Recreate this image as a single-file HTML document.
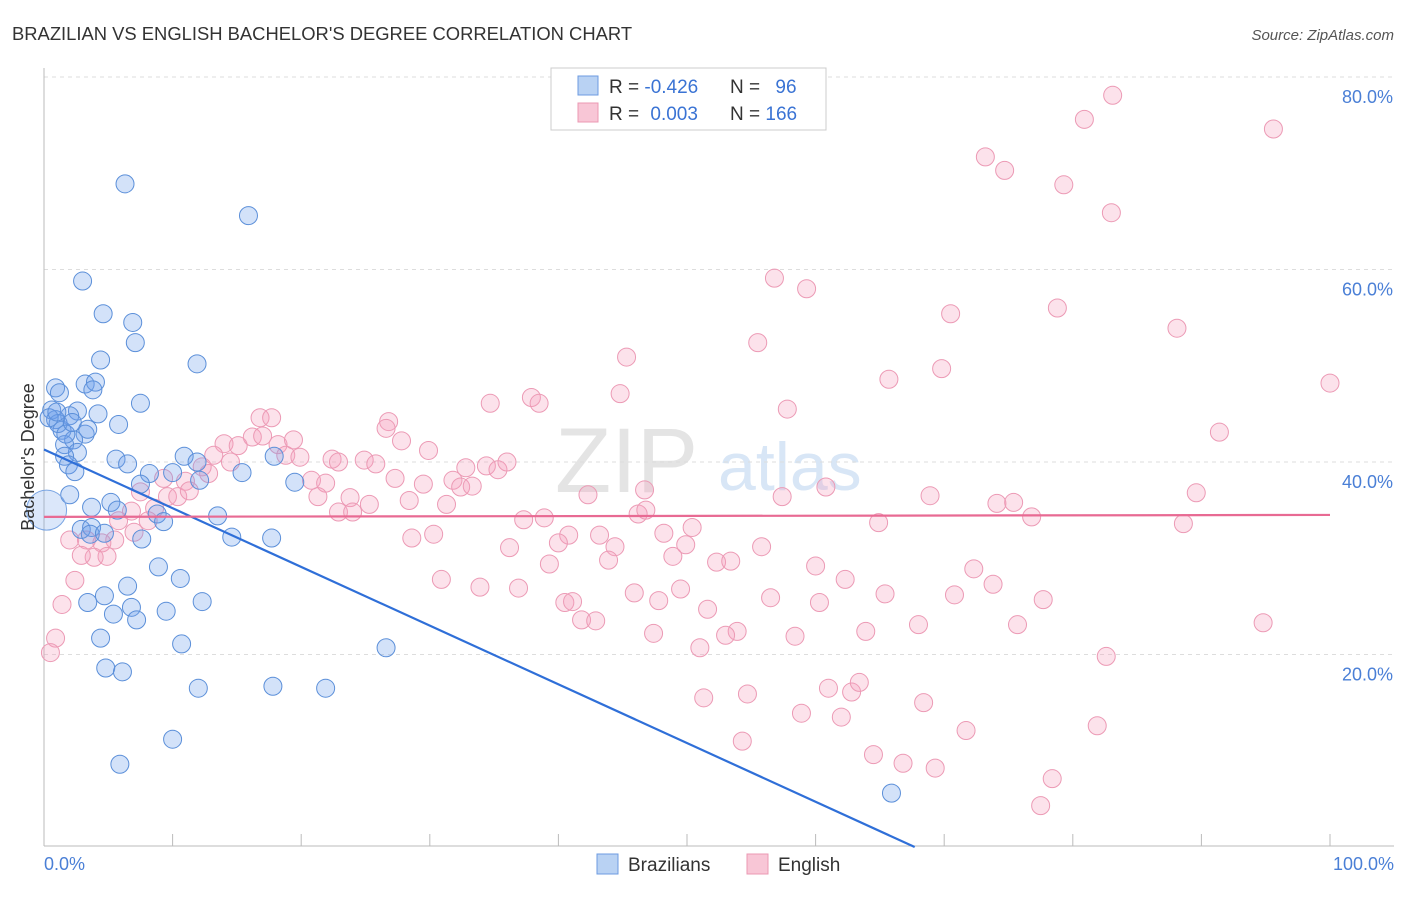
<!DOCTYPE html>
<html><head><meta charset="utf-8"><style>
body{margin:0;background:#fff;font-family:"Liberation Sans",sans-serif;}
svg text{font-family:"Liberation Sans",sans-serif;}
</style></head><body>
<svg id="chart" width="1406" height="892" xmlns="http://www.w3.org/2000/svg">
<text x="12" y="40" font-size="18.4" fill="#333">BRAZILIAN VS ENGLISH BACHELOR'S DEGREE CORRELATION CHART</text>
<text x="1394" y="40" font-size="15" fill="#555" text-anchor="end" font-style="italic">Source: ZipAtlas.com</text>
<g>
<text x="555" y="492" font-size="92" fill="#e4e4e4" font-family="Liberation Serif">ZIP</text>
<text x="718" y="490" font-size="68" fill="#d8e6f6">atlas</text>
</g>
<g id="grid"></g>
<g id="axes"></g>
<g id="marks"></g>
<text transform="translate(34,457) rotate(-90)" font-size="18" fill="#333" text-anchor="middle">Bachelor's Degree</text>
<text x="44" y="870" font-size="18" fill="#4a7fd6">0.0%</text>
<text x="1394" y="870" font-size="18" fill="#4a7fd6" text-anchor="end">100.0%</text>
<g>
<rect x="551" y="68" width="275" height="62" fill="#fff" stroke="#ccc"/>
<rect x="578" y="76" width="20" height="19" fill="#b9d2f3" stroke="#6d9be0"/>
<rect x="578" y="103" width="20" height="19" fill="#f8c6d6" stroke="#eb98b3"/>
<text x="609" y="93" font-size="19" fill="#333">R = <tspan fill="#3a73d4">-0.426</tspan></text>
<text x="730" y="93" font-size="19" fill="#333">N = <tspan fill="#3a73d4" dx="10">96</tspan></text>
<text x="609" y="120" font-size="19" fill="#333">R = <tspan fill="#3a73d4" dx="6">0.003</tspan></text>
<text x="730" y="120" font-size="19" fill="#333">N = <tspan fill="#3a73d4">166</tspan></text>
</g>
<g>
<rect x="597" y="854" width="21" height="20" fill="#b9d2f3" stroke="#6d9be0"/>
<text x="628" y="871" font-size="19" fill="#333">Brazilians</text>
<rect x="747" y="854" width="21" height="20" fill="#f8c6d6" stroke="#eb98b3"/>
<text x="778" y="871" font-size="19" fill="#333">English</text>
</g>
</svg>
<script>
const yTicks=[20,40,60,80];
const yTickLabels=["20.0%","40.0%","60.0%","80.0%"];
const xTicks=[0,10,20,30,40,50,60,70,80,90,100];
const blueX=[6.3,15.9,3.0,4.6,6.9,7.1,4.4,11.9,0.9,3.2,4.0,3.8,1.2,7.5,0.6,2.6,2.0,4.2,0.9,5.8,1.4,3.2,2.3,1.6,2.6,1.6,5.6,6.5,1.9,10.9,11.9,17.9,2.4,8.2,10.0,15.4,19.5,12.1,7.5,2.0,5.2,3.7,5.7,8.8,9.3,13.5,2.9,3.7,3.6,4.7,7.6,14.6,17.7,8.9,10.6,6.5,4.7,3.4,6.8,12.3,9.5,5.4,7.2,4.4,10.7,26.6,4.8,6.1,12.0,17.8,21.9,10.0,5.9,65.9,1.1,1.7,3.4,0.4,1.0,2.2];
const blueY=[68.9,65.6,58.8,55.4,54.5,52.4,50.6,50.2,47.7,48.1,48.3,47.5,47.2,46.1,45.4,45.3,44.8,45.0,44.4,43.9,43.3,42.9,42.3,41.8,41.0,40.6,40.3,39.8,39.7,40.6,40.0,40.6,39.0,38.8,38.9,38.9,37.9,38.1,37.7,36.6,35.8,35.3,35.0,34.6,33.8,34.4,33.0,33.2,32.5,32.6,32.0,32.2,32.1,29.1,27.9,27.1,26.1,25.4,24.9,25.5,24.5,24.2,23.6,21.7,21.1,20.7,18.6,18.2,16.5,16.7,16.5,11.2,8.6,5.6,44.0,42.9,43.4,44.6,45.2,44.1];
const pinkX=[83.1,80.9,95.6,73.2,74.7,79.3,83.0,56.8,59.3,70.5,78.8,88.1,55.5,45.3,65.7,69.8,100,44.8,37.9,38.5,34.7,57.8,26.8,26.6,91.4,16.8,17.7,14.0,15.1,16.2,17.0,18.2,19.4,13.2,14.5,18.8,19.9,27.8,29.9,22.4,22.9,24.9,25.8,32.8,34.4,35.3,36.0,27.3,29.5,31.8,32.4,33.3,20.8,21.9,12.8,12.3,11.0,9.3,9.6,10.4,11.3,21.3,23.8,25.3,28.4,31.3,42.3,46.7,57.4,60.8,68.9,74.1,75.4,89.6,7.5,8.6,6.8,5.8,8.1,7.0,5.5,4.5,3.3,2.0,4.9,3.9,2.9,2.4,1.4,0.9,0.5,22.9,24.0,37.3,38.9,46.2,46.8,64.9,76.8,88.6,40.8,43.2,48.2,50.4,28.6,30.3,40.0,44.4,49.9,36.2,43.9,48.9,52.3,53.4,55.8,39.3,60.0,72.3,30.9,62.3,73.8,33.9,36.9,49.5,45.9,47.8,56.5,65.4,70.8,77.7,40.5,41.1,60.3,51.6,41.8,42.9,68.0,75.7,94.8,47.4,53.9,53.0,63.9,58.4,51.0,82.6,61.0,62.8,63.4,54.7,51.3,68.4,58.9,62.0,71.7,81.9,54.3,64.5,66.8,69.3,78.4,77.5];
const pinkY=[78.1,75.6,74.6,71.7,70.3,68.8,65.9,59.1,58.0,55.4,56.0,53.9,52.4,50.9,48.6,49.7,48.2,47.1,46.7,46.1,46.1,45.5,44.2,43.5,43.1,44.6,44.6,41.9,41.7,42.6,42.7,41.8,42.3,40.7,40.0,40.7,40.5,42.2,41.2,40.3,40.0,40.2,39.8,39.4,39.6,39.2,40.0,38.3,37.7,38.1,37.4,37.5,38.1,37.8,38.8,39.5,38.0,38.3,36.4,36.4,37.0,36.4,36.3,35.6,36.0,35.6,36.6,37.1,36.4,37.4,36.5,35.7,35.8,36.8,36.9,35.2,34.9,33.9,33.9,32.7,31.9,31.6,31.9,31.9,30.2,30.1,30.3,27.7,25.2,21.7,20.2,34.8,34.8,34.0,34.2,34.6,35.0,33.7,34.3,33.6,32.4,32.4,32.6,33.2,32.1,32.5,31.6,31.2,31.4,31.1,29.8,30.2,29.6,29.7,31.2,29.4,29.2,28.9,27.8,27.8,27.3,27.0,26.9,26.8,26.4,25.6,25.9,26.3,26.2,25.7,25.4,25.5,25.4,24.7,23.6,23.5,23.1,23.1,23.3,22.2,22.4,22.0,22.4,21.9,20.7,19.8,16.5,16.1,17.1,15.9,15.5,15.0,13.9,13.5,12.1,12.6,11.0,9.6,8.7,8.2,7.1,4.3];
const blueTrend=[41.3,-0.61];
const pinkTrend=[34.3,0.002];
const NS="http://www.w3.org/2000/svg";
function xs(v){return 44+v*12.86;}
function ys(v){return 847-v*9.625;}
function mk(t,a,p){const e=document.createElementNS(NS,t);for(const k in a)e.setAttribute(k,a[k]);p.appendChild(e);return e;}
const grid=document.getElementById('grid'),axes=document.getElementById('axes'),marks=document.getElementById('marks');
yTicks.forEach((t,i)=>{
 const l=mk('line',{x1:44,y1:ys(t),x2:1394,y2:ys(t),stroke:'#ddd','stroke-dasharray':'4,4'},grid);
 
 
 const tx=mk('text',{x:1393,y:ys(t)+26,'font-size':18,fill:'#4a7fd6','text-anchor':'end'},axes);
 tx.textContent=yTickLabels[i];
 
 
});
mk('line',{x1:44,y1:68,x2:44,y2:846,stroke:'#bbb'},axes);
mk('line',{x1:44,y1:846,x2:1394,y2:846,stroke:'#bbb'},axes);
xTicks.forEach(t=>{
 const l=mk('line',{x1:xs(t),y1:834,x2:xs(t),y2:846,stroke:'#bbb'},axes);
 
 
});
function dots(X,Y,fill,stroke,name){
 X.forEach((x,i)=>{
  const c=mk('circle',{cx:xs(x),cy:ys(Y[i]),r:9,fill:fill,stroke:stroke,'stroke-width':1},marks);
  
  
 });
}
dots(pinkX,pinkY,'rgba(244,160,188,0.3)','#ec9ab5','english-point');
dots(blueX,blueY,'rgba(110,160,235,0.3)','#5b8fd9','brazilian-point');
const big1=mk('circle',{cx:xs(0.2),cy:ys(35),r:20,fill:'rgba(110,160,235,0.25)',stroke:'#7aa5e3'},marks);


const bx2=-blueTrend[0]/blueTrend[1];
const bl=mk('line',{x1:xs(0),y1:ys(blueTrend[0]),x2:xs(bx2),y2:ys(0),stroke:'#2f6fd8','stroke-width':2.2},marks);


const pl=mk('line',{x1:xs(0),y1:ys(pinkTrend[0]),x2:xs(100),y2:ys(pinkTrend[0]+pinkTrend[1]*100),stroke:'#e86a93','stroke-width':2.2},marks);


</script>
</body></html>
